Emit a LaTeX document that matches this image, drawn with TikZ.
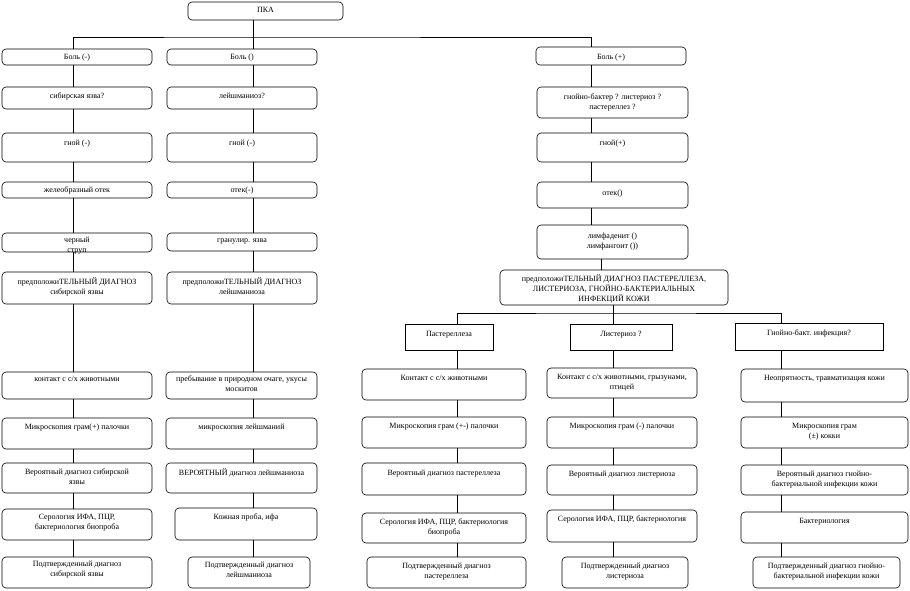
\documentclass[tikz,border=0pt]{standalone}
\usepackage{fontspec}
\setmainfont{Liberation Serif}
\newcommand\bx[8][6]{%
  \node[#7,minimum width={(#5)-(#3)},minimum height={(#6)-(#4)},anchor=north west] (#2) at (#3,#4) {};
  \node[lbl,anchor=north] (#2t) at ([yshift=-#1pt]#2.north) {#8};}
\begin{document}
\begin{tikzpicture}[x=1pt,y=-1pt,
  box/.style={draw,line width=0.6pt,rounded corners=4pt,inner sep=0pt,outer sep=0pt},
  rbox/.style={draw,line width=0.6pt,inner sep=0pt,outer sep=0pt},
  lbl/.style={inner sep=0pt,align=center,font=\fontsize{8}{10}\selectfont},
  tight/.style={font=\fontsize{8}{9}\selectfont},
  conn/.style={line width=0.6pt}]
\useasboundingbox[fill=white] (0,0) rectangle (910,590);
% top
\bx[5]{pka}{188}{2}{343}{20}{box}{ПКА}
% left column
\bx[5]{L1}{2}{49}{152}{65}{box}{Боль (-)}
\bx[6]{L2}{2}{87}{152}{109}{box}{сибирская язва?}
\bx[7]{L3}{2}{133}{152}{162}{box}{гной (-)}
\bx[5]{L4}{2}{182}{152}{198}{box}{желеобразный отек}
\bx[4]{L5}{2}{233}{152}{252}{box}{черный\\струп}
\bx[6]{L6}{2}{272}{152}{304}{box}{предположиТЕЛЬНЫЙ ДИАГНОЗ\\сибирской язвы}
\bx[4]{L7}{2}{372}{152}{399}{box}{контакт с с/х животными}
\bx[6]{L8}{2}{418}{152}{449}{box}{Микроскопия грам(+) палочки}
\bx[6]{L9}{2}{463}{152}{493}{box}{Вероятный диагноз сибирской\\язвы}
\bx[5]{L10}{2}{509}{152}{540}{box}{Серология ИФА, ПЦР,\\бактериология биопроба}
\bx[4]{L11}{2}{557}{152}{588}{box}{Подтвержденный диагноз\\сибирской язвы}
% middle column
\bx[5]{M1}{167}{49}{317}{65}{box}{Боль ()}
\bx[6]{M2}{167}{87}{317}{109}{box}{лейшманиоз?}
\bx[7]{M3}{167}{133}{317}{162}{box}{гной (-)}
\bx[5]{M4}{167}{182}{317}{198}{box}{отек(-)}
\bx[6]{M5}{167}{233}{317}{251}{box}{гранулир. язва}
\bx[6]{M6}{167}{272}{317}{304}{box}{предположиТЕЛЬНЫЙ ДИАГНОЗ\\лейшманиоза}
\bx[4]{M7}{166}{372}{317}{399}{box}{пребывание в природном очаге, укусы\\москитов}
\bx[6]{M8}{166}{418}{317}{449}{box}{микроскопия лейшманий}
\bx[6]{M9}{166}{463}{317}{493}{box}{ВЕРОЯТНЫЙ диагноз лейшманиоза}
\bx[6]{M10}{175}{508}{317}{540}{box}{Кожная проба, ифа}
\bx[5]{M11}{188}{557}{310}{588}{box}{Подтвержденный диагноз\\лейшманиоза}
% right column
\bx[7]{R1}{536}{47}{686}{65}{box}{Боль (+)}
\bx[7]{R2}{537}{87}{688}{118}{box}{\fontsize{8}{9}\selectfont гнойно-бактер ? листериоз ?\\пастереллез ?}
\bx[7]{R3}{537}{133}{688}{162}{box}{гной(+)}
\bx[8]{R4}{537}{182}{688}{208}{box}{отек()}
\bx[8]{R5}{537}{225}{688}{259}{box}{\fontsize{8}{9}\selectfont лимфаденит ()\\лимфангоит ())}
\bx[5]{R6}{500}{270}{728}{305}{box}{\fontsize{8}{8.6}\selectfont предположиТЕЛЬНЫЙ ДИАГНОЗ ПАСТЕРЕЛЛЕЗА,\\ЛИСТЕРИОЗА, ГНОЙНО-БАКТЕРИАЛЬНЫХ\\ИНФЕКЦИЙ КОЖИ}
% branches
\bx[7]{Pa}{405}{324}{493}{350}{rbox}{Пастереллеза}
\bx[7]{Li}{570}{324}{672}{350}{rbox}{Листериоз ?}
\bx[7]{G}{735}{323}{883}{350}{rbox}{Гнойно-бакт. инфекция?}
% pasteurellosis column
\bx[6]{P7}{362}{369}{526}{400}{box}{Контакт с с/х животными}
\bx[6]{P8}{362}{417}{526}{448}{box}{Микроскопия грам (+-) палочки}
\bx[7]{P9}{362}{463}{526}{495}{box}{Вероятный диагноз пастереллеза}
\bx[6]{P10}{362}{513}{526}{543}{box}{Серология ИФА, ПЦР, бактериология\\биопроба}
\bx[6]{P11}{367}{557}{526}{588}{box}{Подтвержденный диагноз\\пастереллеза}
% listeriosis column
\bx[6]{Li7}{547}{368}{697}{398}{box}{Контакт с с/х животными, грызунами,\\птицей}
\bx[6]{Li8}{547}{417}{697}{448}{box}{Микроскопия грам (-) палочки}
\bx[6]{Li9}{547}{465}{697}{495}{box}{Вероятный диагноз листериоза}
\bx[6]{Li10}{547}{510}{697}{542}{box}{Серология ИФА, ПЦР, бактериология}
\bx[6]{Li11}{562}{557}{688}{588}{box}{Подтвержденный диагноз\\листериоза}
% pyobacterial column
\bx[6]{G7}{741}{369}{908}{402}{box}{Неопрятность, травматизация кожи}
\bx[6]{G8}{741}{417}{908}{448}{box}{Микроскопия грам\\(±) кокки}
\bx[6]{G9}{741}{465}{908}{495}{box}{Вероятный диагноз гнойно-\\бактериальной инфекции кожи}
\bx[6]{G10}{741}{512}{908}{543}{box}{Бактериология}
\bx[6]{G11}{753}{557}{900}{588}{box}{Подтвержденный диагноз гнойно-\\бактериальной инфекции кожи}
% line positions
\coordinate (xL) at (73,0);
\coordinate (xM) at (253,0);
\coordinate (xR) at (591,0);
\coordinate (xR2) at (601,0);
\coordinate (xS) at (613,0);
\coordinate (xP) at (457,0);
\coordinate (xG) at (781,0);
\coordinate (j) at (253,37);
\coordinate (s) at (613,313);
% connectors
\draw[conn] (pka.south -| xM) -- (j);
\draw[conn] (L1.north -| xL) |- (j) -| (R1.north -| xR);
\draw[conn] (j) -- (M1.north -| xM);
\foreach \a/\b in {L1/L2,L2/L3,L3/L4,L4/L5,L5/L6,L6/L7,L7/L8,L8/L9,L9/L10,L10/L11}
  \draw[conn] (\a.south -| xL) -- (\b.north -| xL);
\foreach \a/\b in {M1/M2,M2/M3,M3/M4,M4/M5,M5/M6,M6/M7,M7/M8,M8/M9,M9/M10,M10/M11}
  \draw[conn] (\a.south -| xM) -- (\b.north -| xM);
\foreach \a/\b in {R1/R2,R2/R3,R3/R4,R4/R5}
  \draw[conn] (\a.south -| xR) -- (\b.north -| xR);
\draw[conn] (R5.south -| xR2) -- (R6.north -| xR2);
\draw[conn] (R6.south -| xS) -- (Li.north -| xS);
\draw[conn] (Pa.north -| xP) |- (s) -| (G.north -| xG);
\foreach \a/\b in {Pa/P7,P7/P8,P8/P9,P9/P10,P10/P11}
  \draw[conn] (\a.south -| xP) -- (\b.north -| xP);
\foreach \a/\b in {Li/Li7,Li7/Li8,Li8/Li9,Li9/Li10,Li10/Li11}
  \draw[conn] (\a.south -| xS) -- (\b.north -| xS);
\foreach \a/\b in {G/G7,G7/G8,G8/G9,G9/G10,G10/G11}
  \draw[conn] (\a.south -| xG) -- (\b.north -| xG);
\end{tikzpicture}
\end{document}
